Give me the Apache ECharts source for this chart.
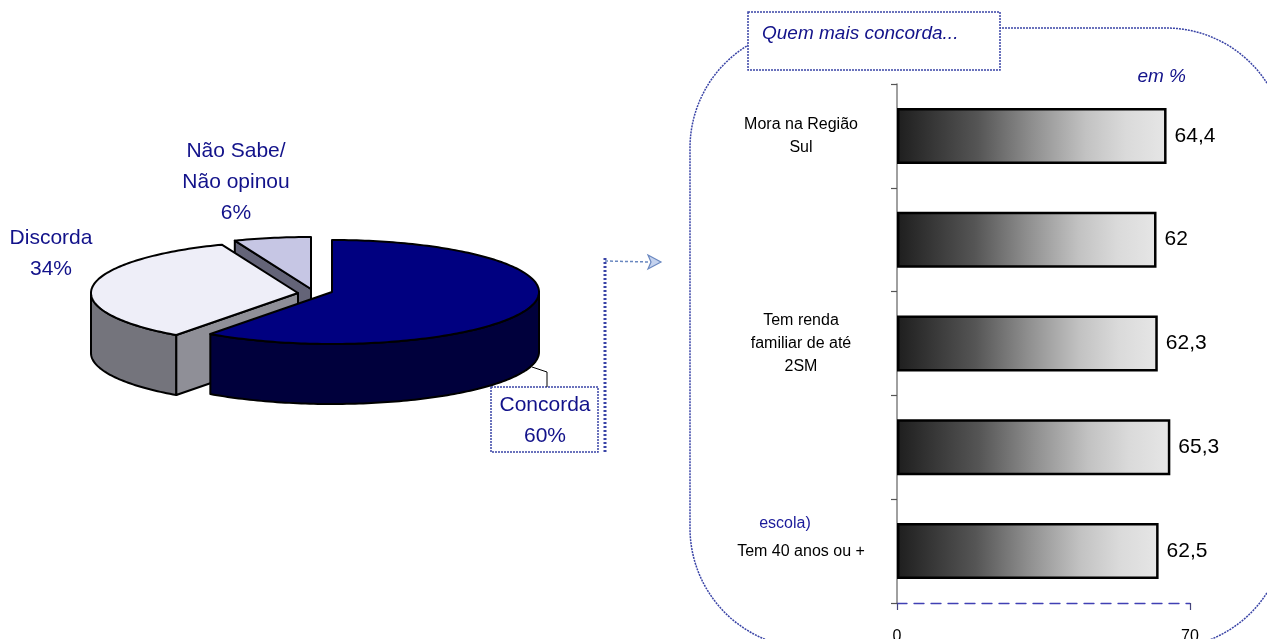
<!DOCTYPE html>
<html>
<head>
<meta charset="utf-8">
<script src="https://cdn.jsdelivr.net/npm/echarts@6/dist/echarts.min.js"></script>
<style>
  html, body { margin: 0; padding: 0; background: #ffffff; }
  #chart { width: 1267px; height: 639px; }
</style>
</head>
<body>
<div id="chart"></div>
<script>
// Opinião geral (pizza em perspectiva)
const pieNames = ['Concorda', 'Discorda', 'Não Sabe/\nNão opinou'];
const pieValues = [60, 34, 6];

// Quem mais concorda... (em %)
const barCategories = ['Mora na Região\nSul', '', 'Tem renda\nfamiliar de até\n2SM', '', 'Tem 40 anos ou +'];
const barValues = [64.4, 62, 62.3, 65.3, 62.5];
const axisMin = 0;
const axisMax = 70;

const FONT = '"Liberation Sans", Arial, sans-serif';
const BLUE_TEXT = '#12128a';
const DOTTED = '#3a44a6';

// geometry of the tilted pie
const PIE = { cx: 300, cy: 292, rx: 207, ry: 52, depth: 60 };
const pieOffsets = [[32, 0], [-2, 1], [11, -3]];
const pieColors = [
  { top: '#000080', wall: '#00003c', face: '#00005a' },
  { top: '#eeeef8', wall: '#74747c', face: '#8f8f97' },
  { top: '#c6c6e4', wall: '#5a5a68', face: '#646478' }
];
const pieLabelPos = [[545, 421], [51, 254], [236, 182]];
const pieLayer = [30, 20, 10];

function renderSlice(params, api) {
  const i = params.dataIndex;
  const total = pieValues.reduce((a, b) => a + b, 0);
  let start = 0;
  for (let k = 0; k < i; k++) start += pieValues[k];
  const a0 = start / total * 2 * Math.PI;
  const a1 = (start + api.value(0)) / total * 2 * Math.PI;
  const cx = PIE.cx + pieOffsets[i][0];
  const cy = PIE.cy + pieOffsets[i][1];
  const pt = (a, dz) => [cx + PIE.rx * Math.sin(a), cy - PIE.ry * Math.cos(a) + (dz || 0)];
  const arc = (b0, b1, dz) => {
    const n = Math.max(2, Math.ceil((b1 - b0) / 0.02));
    const out = [];
    for (let s = 0; s <= n; s++) out.push(pt(b0 + (b1 - b0) * s / n, dz));
    return out;
  };
  const edge = { stroke: '#000000', lineWidth: 2, lineJoin: 'round' };
  const z = pieLayer[i];
  const col = pieColors[i];
  const children = [];
  const v = [cx, cy], vb = [cx, cy + PIE.depth];

  // outer wall, front half only
  const w0 = Math.max(a0, Math.PI / 2), w1 = Math.min(a1, 3 * Math.PI / 2);
  if (w1 > w0) {
    const pts = arc(w0, w1, 0).concat(arc(w0, w1, PIE.depth).reverse());
    children.push({ type: 'polygon', z2: z, shape: { points: pts },
      style: Object.assign({ fill: col.wall }, edge) });
  }
  // cut faces turned towards the viewer
  if (Math.sin(a0) < -1e-6) {
    children.push({ type: 'polygon', z2: z + 1,
      shape: { points: [v, pt(a0), pt(a0, PIE.depth), vb] },
      style: Object.assign({ fill: col.face }, edge) });
  }
  if (Math.sin(a1) > 1e-6) {
    children.push({ type: 'polygon', z2: z + 1,
      shape: { points: [v, pt(a1), pt(a1, PIE.depth), vb] },
      style: Object.assign({ fill: col.face }, edge) });
  }
  // top face
  children.push({ type: 'polygon', z2: z + 2,
    shape: { points: [v].concat(arc(a0, a1, 0)) },
    style: Object.assign({ fill: col.top }, edge) });
  // label
  const pct = Math.round(api.value(0) / total * 100);
  children.push({ type: 'text', z2: 50, x: pieLabelPos[i][0], y: pieLabelPos[i][1],
    style: { text: pieNames[i] + '\n' + pct + '%', fill: BLUE_TEXT,
      font: '21px ' + FONT, align: 'center', verticalAlign: 'middle', lineHeight: 31 } });
  return { type: 'group', children: children };
}

const chart = echarts.init(document.getElementById('chart'), null, { renderer: 'canvas' });

const barGradient = new echarts.graphic.LinearGradient(0, 0, 1, 0, [
  { offset: 0, color: '#1e1e1e' },
  { offset: 0.3, color: '#555555' },
  { offset: 0.5, color: '#8e8e8e' },
  { offset: 0.7, color: '#c2c2c2' },
  { offset: 0.85, color: '#dadada' },
  { offset: 1, color: '#e6e6e6' }
]);

chart.setOption({
  animation: false,
  backgroundColor: '#ffffff',
  grid: { left: 897, right: 77, top: 84, bottom: 36, containLabel: false, outerBoundsMode: 'none' },
  xAxis: {
    type: 'value', min: axisMin, max: axisMax, interval: 70,
    splitLine: { show: false },
    axisLine: { show: true, lineStyle: { color: '#4040b4', width: 1.3, type: [10, 7] } },
    axisTick: { show: true, length: 7, lineStyle: { color: '#44447a', width: 1.2 } },
    axisLabel: { margin: 26, fontSize: 16, color: '#000000', fontFamily: FONT }
  },
  yAxis: {
    type: 'category', data: barCategories, inverse: true,
    axisLine: { show: true, lineStyle: { color: '#808080', width: 1.5 } },
    axisTick: { show: true, length: 6, lineStyle: { color: '#555555', width: 1.2 } },
    axisLabel: { align: 'center', margin: 96, fontSize: 16, lineHeight: 23,
      padding: [16, 0, 0, 0], backgroundColor: 'rgba(255,255,255,0)',
      color: '#000000', fontFamily: FONT }
  },
  series: [
    {
      type: 'bar', data: barValues, barWidth: 56,
      itemStyle: { color: barGradient, borderColor: '#000000', borderWidth: 2.5 },
      label: {
        show: true, position: 'right', distance: 8,
        formatter: p => String(p.value).replace('.', ','),
        color: '#000000', fontSize: 21, fontFamily: FONT
      }
    },
    {
      type: 'custom', coordinateSystem: 'none', silent: true,
      data: pieValues.map(v => [v]),
      renderItem: renderSlice
    }
  ],
  graphic: [
    // rounded frame around the ranking
    { type: 'rect', z: 1, silent: true,
      shape: { x: 690, y: 28, width: 596, height: 620, r: 120 },
      style: { fill: 'none', stroke: DOTTED, lineWidth: 1.5, lineDash: [2, 1] } },
    // title box
    { type: 'rect', z: 2, silent: true,
      shape: { x: 748, y: 12, width: 252, height: 58 },
      style: { fill: '#ffffff', stroke: DOTTED, lineWidth: 1.5, lineDash: [2, 1] } },
    { type: 'text', z: 3, silent: true, x: 762, y: 34,
      style: { text: 'Quem mais concorda...', fill: BLUE_TEXT,
        font: 'italic 19px ' + FONT, verticalAlign: 'middle' } },
    { type: 'text', z: 3, silent: true, x: 1186, y: 77,
      style: { text: 'em %', fill: BLUE_TEXT, font: 'italic 19px ' + FONT,
        align: 'right', verticalAlign: 'middle' } },
    { type: 'text', z: 3, silent: true, x: 785, y: 524,
      style: { text: 'escola)', fill: '#1a1a9a', font: '16px ' + FONT,
        align: 'center', verticalAlign: 'middle' } },
    // Concorda callout box and leader
    { type: 'rect', z: 2, silent: true,
      shape: { x: 491, y: 387, width: 107, height: 65 },
      style: { fill: 'none', stroke: DOTTED, lineWidth: 1.5, lineDash: [2, 1] } },
    { type: 'polyline', z: 2, silent: true,
      shape: { points: [[532, 367], [547, 372], [547, 387]] },
      style: { stroke: '#000000', lineWidth: 1, fill: 'none' } },
    // connector to the ranking
    { type: 'line', z: 2, silent: true,
      shape: { x1: 605, y1: 258, x2: 605, y2: 452 },
      style: { stroke: DOTTED, lineWidth: 3, lineDash: [2, 2] } },
    { type: 'line', z: 2, silent: true,
      shape: { x1: 605, y1: 261, x2: 650, y2: 262 },
      style: { stroke: '#6a88c0', lineWidth: 1.5, lineDash: [3, 2] } },
    { type: 'polygon', z: 2, silent: true,
      shape: { points: [[648, 255], [661, 262], [648, 269], [651, 262]] },
      style: { fill: '#c4d2ee', stroke: '#6a88c0', lineWidth: 1.2 } }
  ]
});
</script>
</body>
</html>
